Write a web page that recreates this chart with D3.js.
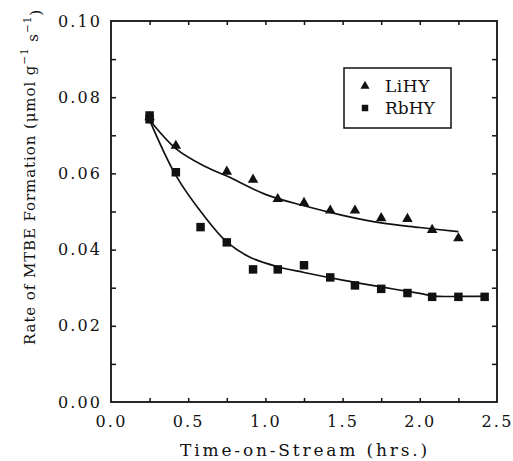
<!DOCTYPE html>
<html>
<head>
<meta charset="utf-8">
<script src="https://cdn.jsdelivr.net/npm/d3@7"></script>
<style>
  body { margin: 0; background: #fff; }
  text { font-family: "DejaVu Serif", "Liberation Serif", serif; fill: #111; }
</style>
</head>
<body>
<div id="chart"></div>
<script>
var width = 513;
var height = 461;
var margin = {top: 21, right: 16, bottom: 59, left: 111};

// measured points (hrs, umol g-1 s-1)
var liTime = [0.25, 0.42, 0.75, 0.92, 1.08, 1.25, 1.42, 1.58, 1.75, 1.92, 2.08, 2.25];
var liRate = [0.0745, 0.067, 0.0602, 0.0581, 0.053, 0.052, 0.050, 0.050, 0.048, 0.0478, 0.0449, 0.0427];

var rbTime = [0.25, 0.25, 0.42, 0.58, 0.75, 0.92, 1.08, 1.25, 1.42, 1.58, 1.75, 1.92, 2.08, 2.25, 2.42];
var rbRate = [0.0752, 0.0742, 0.0603, 0.0459, 0.0419, 0.0348, 0.0348, 0.0359, 0.0327, 0.0306, 0.0297, 0.0286, 0.0276, 0.0276, 0.0276];

// fitted curves as drawn
var liFitTime = [0.25, 0.42, 0.6, 0.75, 1.0, 1.25, 1.5, 1.75, 2.0, 2.25];
var liFitRate = [0.074, 0.0665, 0.062, 0.0593, 0.0545, 0.0515, 0.049, 0.047, 0.0458, 0.0447];

var rbFitTime = [0.25, 0.42, 0.6, 0.75, 0.9, 1.08, 1.25, 1.5, 1.75, 2.0, 2.1, 2.25, 2.42];
var rbFitRate = [0.074, 0.0595, 0.049, 0.042, 0.038, 0.0355, 0.034, 0.032, 0.0302, 0.0285, 0.0278, 0.0277, 0.0278];

var xTicks = [0, 0.5, 1.0, 1.5, 2.0, 2.5];
var yTicks = [0, 0.02, 0.04, 0.06, 0.08, 0.10];

var seriesNames = ["LiHY", "RbHY"];

var svg = d3.select("#chart").append("svg")
    .attr("width", width)
    .attr("height", height);

var x = d3.scaleLinear().domain([0, 2.5]).range([margin.left, width - margin.right]);
var y = d3.scaleLinear().domain([0, 0.10]).range([height - margin.bottom, margin.top]);

var x0 = x.range()[0], x1 = x.range()[1];
var y0 = y.range()[0], y1 = y.range()[1];

// widen letter spacing so a text spans about the wanted width (typewriter look)
function fitSpacing(sel, target) {
    sel.each(function() {
        var len = this.getComputedTextLength();
        var n = this.getNumberOfChars();
        var sp = (target - len) / Math.max(n, 1);
        this.style.letterSpacing = Math.max(sp, 0) + "px";
    });
}

// minor ticks (inward) on all four sides
var xMinor = d3.range(0.25, 2.5, 0.25);
var yMinor = d3.range(0.01, 0.10, 0.01);

svg.append("g").attr("transform", "translate(0," + y0 + ")")
    .call(d3.axisBottom(x).tickValues(xMinor).tickSize(-4).tickFormat(""));
svg.append("g").attr("transform", "translate(0," + y1 + ")")
    .call(d3.axisTop(x).tickValues(xMinor).tickSize(-4).tickFormat(""));
svg.append("g").attr("transform", "translate(" + x0 + ",0)")
    .call(d3.axisLeft(y).tickValues(yMinor).tickSize(-5).tickFormat(""));
svg.append("g").attr("transform", "translate(" + x1 + ",0)")
    .call(d3.axisRight(y).tickValues(yMinor).tickSize(-5).tickFormat(""));

// labelled axes
var xAxis = svg.append("g").attr("transform", "translate(0," + y0 + ")")
    .call(d3.axisBottom(x).tickValues(xTicks).tickSize(0).tickPadding(13).tickFormat(d3.format(".1f")));
var yAxis = svg.append("g").attr("transform", "translate(" + x0 + ",0)")
    .call(d3.axisLeft(y).tickValues(yTicks).tickSize(0).tickPadding(9).tickFormat(d3.format(".2f")));

svg.selectAll(".domain").remove();
svg.selectAll(".tick line").attr("stroke", "#111").attr("stroke-width", 1.5);
xAxis.selectAll("text").style("font-size", "16px").attr("dy", "0.75em");
yAxis.selectAll("text").style("font-size", "16px");
fitSpacing(xAxis.selectAll("text"), 32);
fitSpacing(yAxis.selectAll("text"), 44);

// frame
svg.append("rect")
    .attr("x", x0).attr("y", y1)
    .attr("width", x1 - x0).attr("height", y0 - y1)
    .attr("fill", "none")
    .attr("stroke", "#111")
    .attr("stroke-width", 1.8);

// fitted lines
var line = d3.line()
    .x(function(d) { return x(d[0]); })
    .y(function(d) { return y(d[1]); })
    .curve(d3.curveCatmullRom);

svg.append("path")
    .datum(d3.zip(liFitTime, liFitRate))
    .attr("d", line)
    .attr("fill", "none")
    .attr("stroke", "#111")
    .attr("stroke-width", 1.7);

svg.append("path")
    .datum(d3.zip(rbFitTime, rbFitRate))
    .attr("d", line)
    .attr("fill", "none")
    .attr("stroke", "#111")
    .attr("stroke-width", 1.7);

// markers
var tri = d3.symbol().type(d3.symbolTriangle).size(48);
var sq = d3.symbol().type(d3.symbolSquare).size(72);

svg.append("g").selectAll("path")
    .data(d3.zip(rbTime, rbRate))
    .join("path")
    .attr("d", sq)
    .attr("transform", function(d) { return "translate(" + x(d[0]) + "," + y(d[1]) + ")"; })
    .attr("fill", "#111");

svg.append("g").selectAll("path")
    .data(d3.zip(liTime, liRate))
    .join("path")
    .attr("d", tri)
    .attr("transform", function(d) { return "translate(" + x(d[0]) + "," + (y(d[1]) - 1) + ")"; })
    .attr("fill", "#111");

// legend
var legend = svg.append("g").attr("transform", "translate(344,68)");
legend.append("rect")
    .attr("width", 107).attr("height", 60)
    .attr("fill", "#fff")
    .attr("stroke", "#111")
    .attr("stroke-width", 1.5);
legend.append("path").attr("d", d3.symbol().type(d3.symbolTriangle).size(36))
    .attr("transform", "translate(21,18)").attr("fill", "#111");
legend.append("path").attr("d", d3.symbol().type(d3.symbolSquare).size(42))
    .attr("transform", "translate(21,40)").attr("fill", "#111");
var legText = legend.selectAll("text.lab")
    .data(seriesNames)
    .join("text")
    .attr("class", "lab")
    .attr("x", 41)
    .attr("y", function(d, i) { return 24 + i * 22; })
    .style("font-size", "17px")
    .text(function(d) { return d; });
fitSpacing(legText, 45);

// axis titles
var xt = svg.append("text")
    .attr("x", 180)
    .attr("y", 456)
    .attr("text-anchor", "start")
    .style("font-size", "17px")
    .text("Time-on-Stream (hrs.)");
fitSpacing(xt, 250);

var yt = svg.append("text")
    .attr("transform", "translate(35,345) rotate(-90)")
    .attr("text-anchor", "start")
    .style("font-size", "15px");
yt.append("tspan").text("Rate of MTBE Formation (\u03bcmol g");
yt.append("tspan").attr("dy", "-0.65em").style("font-size", "0.7em").text("\u22121");
yt.append("tspan").attr("dy", "0.65em").text(" s");
yt.append("tspan").attr("dy", "-0.65em").style("font-size", "0.7em").text("\u22121");
yt.append("tspan").attr("dy", "0.65em").text(")");
fitSpacing(yt, 336);
</script>
</body>
</html>
